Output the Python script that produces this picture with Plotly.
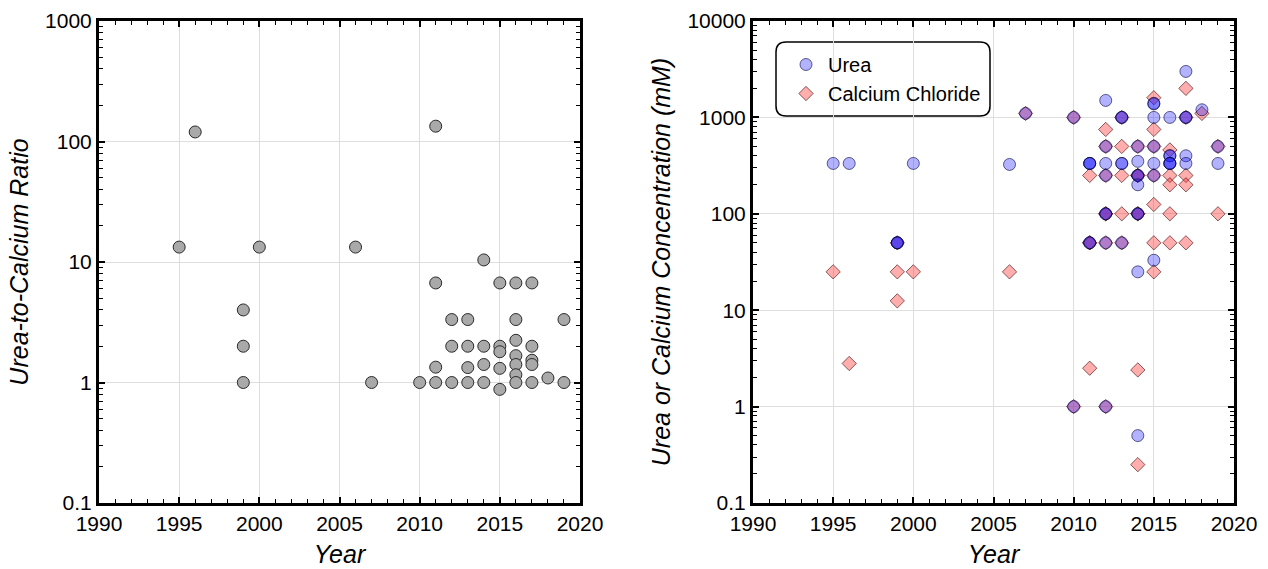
import plotly.graph_objects as go

# ---------------- data ----------------
ratio_years = [1995, 1996, 1999, 1999, 1999, 2000, 2006, 2007, 2010,
               2011, 2011, 2011, 2011,
               2012, 2012, 2012,
               2013, 2013, 2013, 2013,
               2014, 2014, 2014, 2014,
               2015, 2015, 2015, 2015, 2015,
               2016, 2016, 2016, 2016, 2016, 2016, 2016,
               2017, 2017, 2017, 2017, 2017,
               2018, 2019, 2019]
ratio_values = [13.3, 120, 4.0, 2.0, 1.0, 13.3, 13.3, 1.0, 1.0,
                134, 6.7, 1.34, 1.0,
                3.33, 2.0, 1.0,
                3.33, 2.0, 1.33, 1.0,
                10.4, 2.0, 1.41, 1.0,
                6.7, 2.0, 1.8, 1.31, 0.877,
                6.7, 3.33, 2.24, 1.67, 1.41, 1.16, 1.0,
                6.7, 2.0, 1.53, 1.41, 1.0,
                1.09, 3.33, 1.0]

urea_years = [1995, 1996, 1999, 1999, 1999, 2000, 2006, 2007, 2010, 2010,
              2011, 2011, 2011, 2011, 2011,
              2012, 2012, 2012, 2012, 2012, 2012, 2012, 2012,
              2013, 2013, 2013, 2013, 2013,
              2014, 2014, 2014, 2014, 2014, 2014, 2014, 2014, 2014,
              2015, 2015, 2015, 2015, 2015, 2015, 2015,
              2016, 2016, 2016, 2016, 2016, 2016,
              2017, 2017, 2017, 2017, 2017,
              2018, 2019, 2019]
urea_values = [333, 333, 50, 50, 50, 333, 325, 1100, 1000, 1,
               333, 333, 333, 50, 50,
               1500, 500, 333, 250, 100, 100, 50, 1,
               1000, 1000, 333, 333, 50,
               500, 350, 250, 250, 200, 100, 100, 25, 0.5,
               1400, 1380, 1000, 500, 333, 250, 33,
               1000, 400, 400, 333, 333, 333,
               3000, 1000, 1000, 400, 333,
               1200, 500, 333]

cacl_years = [1995, 1996, 1999, 1999, 1999, 2000, 2006, 2007, 2010, 2010,
              2011, 2011, 2011, 2011,
              2012, 2012, 2012, 2012, 2012, 2012, 2012,
              2013, 2013, 2013, 2013, 2013,
              2014, 2014, 2014, 2014, 2014, 2014, 2014,
              2015, 2015, 2015, 2015, 2015, 2015, 2015,
              2016, 2016, 2016, 2016, 2016,
              2017, 2017, 2017, 2017, 2017,
              2018, 2019, 2019]
cacl_values = [25, 2.8, 50, 25, 12.5, 25, 25, 1100, 1000, 1,
               2.5, 50, 50, 250,
               750, 500, 250, 100, 100, 50, 1,
               1000, 500, 250, 100, 50,
               500, 250, 250, 100, 100, 2.4, 0.25,
               1600, 750, 500, 250, 125, 50, 25,
               460, 250, 200, 100, 50,
               2000, 1000, 250, 200, 50,
               1100, 500, 100]

year_ticks = [1990, 1995, 2000, 2005, 2010, 2015, 2020]
left_y_ticks = [0.1, 1, 10, 100, 1000]
left_y_text = ["0.1", "1", "10", "100", "1000"]
right_y_ticks = [0.1, 1, 10, 100, 1000, 10000]
right_y_text = ["0.1", "1", "10", "100", "1000", "10000"]

# ---------------- layout geometry ----------------
W, H = 1268, 569
ML, MR, MT, MB = 99, 34, 21, 66
PW = W - ML - MR
PH = H - MT - MB
left_dom = [0, 481 / PW]
right_dom = [(753 - ML) / PW, 1]

FONT = "Liberation Sans, Arial, sans-serif"
TICK_SIZE = 21
TITLE_SIZE = 25

fig = go.Figure()

fig.add_trace(go.Scatter(
    x=ratio_years, y=ratio_values, mode="markers", xaxis="x", yaxis="y",
    showlegend=False,
    marker=dict(size=12, color="#a9a9a9", line=dict(color="#2a2a2a", width=1))))

fig.add_trace(go.Scatter(
    x=cacl_years, y=cacl_values, mode="markers", xaxis="x2", yaxis="y2",
    name="Calcium Chloride", legendgroup="c", legendrank=2,
    marker=dict(symbol="diamond", size=11, color="rgba(255,40,40,0.38)",
                line=dict(color="rgba(60,0,0,0.6)", width=1))))

fig.add_trace(go.Scatter(
    x=urea_years, y=urea_values, mode="markers", xaxis="x2", yaxis="y2",
    name="Urea", legendgroup="u", legendrank=1,
    marker=dict(symbol="circle", size=12, color="rgba(30,30,255,0.34)",
                line=dict(color="rgba(0,0,60,0.6)", width=1))))

def xax(domain, anchor):
    return dict(domain=domain, anchor=anchor, range=[1990, 2020],
                automargin=False,
                tickmode="array", tickvals=year_ticks,
                ticks="inside", ticklen=6, tickwidth=1.5, tickcolor="black",
                minor=dict(dtick=1, tick0=1990, ticks="inside", ticklen=4,
                           tickwidth=1.2, tickcolor="black", showgrid=False),
                showline=True, linewidth=3, linecolor="black", mirror="allticks",
                showgrid=True, gridcolor="#dedede", gridwidth=1, zeroline=False,
                tickfont=dict(family=FONT, size=TICK_SIZE, color="black"),
                title=dict(text="<i>Year</i>", standoff=12,
                           font=dict(family=FONT, size=TITLE_SIZE, color="black")))

def yax(domain_anchor, rng, vals, texts, title):
    return dict(domain=[0, 1], anchor=domain_anchor, type="log", range=rng,
                automargin=False,
                tickmode="array", tickvals=vals, ticktext=texts,
                ticks="inside", ticklen=6, tickwidth=1.5, tickcolor="black",
                minor=dict(dtick="D1", ticks="inside", ticklen=4,
                           tickwidth=1.2, tickcolor="black", showgrid=False),
                showline=True, linewidth=3, linecolor="black", mirror="allticks",
                showgrid=True, gridcolor="#dedede", gridwidth=1, zeroline=False,
                tickfont=dict(family=FONT, size=TICK_SIZE, color="black"),
                title=dict(text="<i>" + title + "</i>", standoff=10,
                           font=dict(family=FONT, size=TITLE_SIZE, color="black")))

# rounded legend box (pixel -> paper)
bx0, bx1, by0, by1, rr = 776, 990, 42, 116, 10
def px(v):
    return (v - ML) / PW
def py(v):
    return (H - MB - v) / PH
rx, ry = rr / PW, rr / PH
x0, x1, y0, y1 = px(bx0), px(bx1), py(by1), py(by0)
path = (f"M {x0+rx},{y0} L {x1-rx},{y0} Q {x1},{y0} {x1},{y0+ry} "
        f"L {x1},{y1-ry} Q {x1},{y1} {x1-rx},{y1} L {x0+rx},{y1} "
        f"Q {x0},{y1} {x0},{y1-ry} L {x0},{y0+ry} Q {x0},{y0} {x0+rx},{y0} Z")

fig.update_layout(
    width=W, height=H, autosize=False,
    margin=dict(l=ML, r=MR, t=MT, b=MB, autoexpand=False),
    paper_bgcolor="white", plot_bgcolor="white",
    font=dict(family=FONT, size=TICK_SIZE, color="black"),
    xaxis=xax(left_dom, "y"),
    yaxis=yax("x", [-1, 3], left_y_ticks, left_y_text, "Urea-to-Calcium Ratio"),
    xaxis2=xax(right_dom, "y2"),
    yaxis2=yax("x2", [-1, 4], right_y_ticks, right_y_text,
               "Urea or Calcium Concentration (mM)"),
    legend=dict(x=px(784), y=py(45), xanchor="left", yanchor="top",
                bgcolor="rgba(255,255,255,0)", borderwidth=0,
                traceorder="grouped", tracegroupgap=0, itemwidth=34,
                font=dict(family=FONT, size=20, color="black")),
    shapes=[dict(type="path", xref="paper", yref="paper", path=path,
                 line=dict(color="black", width=1.5), fillcolor="white",
                 layer="below")],
)

fig.write_html("out.html")
